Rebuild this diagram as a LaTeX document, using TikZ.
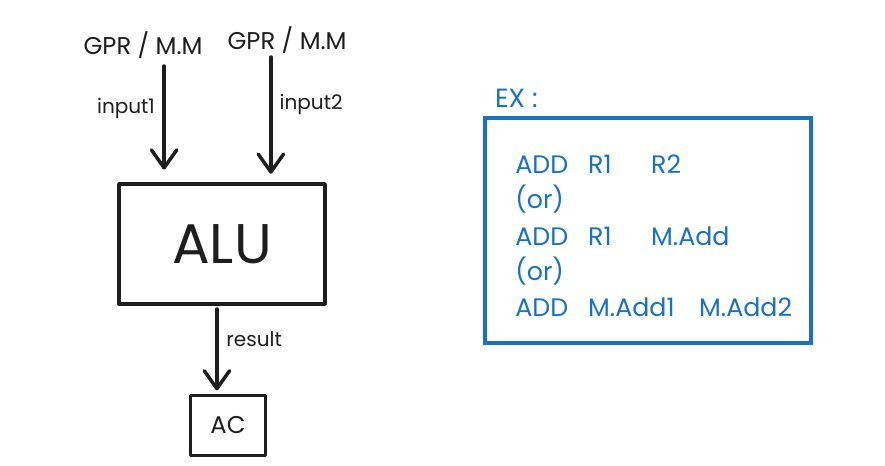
\documentclass[tikz,border=0pt]{standalone}
\usepackage{fontspec}
\setmainfont{Poppins}
\usetikzlibrary{arrows.meta}
\definecolor{inkblack}{HTML}{1E1E1E}
\definecolor{exblue}{HTML}{1971C2}
\begin{document}
\begin{tikzpicture}[
  every node/.style={text=inkblack, font=\fontsize{19}{22}\selectfont},
  unit/.style={draw=inkblack, line width=3.2pt, line join=round},
  flow/.style={draw=inkblack, line width=3.3pt, line cap=round,
    -{Straight Barb[round, length=17pt, width=24pt]}},
  src/.style={font=\fontsize{23}{26}\selectfont},
  exline/.style={anchor=west, text=exblue, font=\fontsize{24}{28}\selectfont, inner sep=0pt}]
\useasboundingbox (0,0) rectangle (29.5,-15.5);
\node[src] (gpr1) at (4.77,-1.5) {GPR / M.M};
\node[src] (gpr2) at (9.57,-1.33) {GPR / M.M};
\node[unit, minimum width=6.87cm, minimum height=4cm, font=\fontsize{53}{56}\selectfont] (alu) at (7.4,-8.13) {ALU};
\node[unit, line width=2.9pt, minimum width=2.53cm, minimum height=2cm, font=\fontsize{23}{26}\selectfont] (ac) at (7.6,-14.17) {AC};
\coordinate (in1) at (5.47,-2.2);
\coordinate (in2) at (9.03,-1.9);
\coordinate (res) at (7.23,-10.3);
\draw[flow, shorten >=12pt] (in1) -- (in1 |- alu.north);
\draw[flow, shorten >=8pt] (in2) -- (in2 |- alu.north);
\draw[flow, shorten >=3pt] (res) -- (res |- ac.north);
\node (lbl1) at (4.2,-3.63) {input1};
\node (lbl2) at (10.37,-3.47) {input2};
\node (lbl3) at (8.47,-11.3) {result};
% example box
\node[exline, font=\fontsize{25}{28}\selectfont] (ex) at (16.5,-3.27) {EX :};
\node[draw=exblue, line width=3.2pt, minimum width=10.87cm, minimum height=7.5cm] (exbox) at (21.6,-7.68) {};
\node[exline] (ln1) at (17.17,-5.47) {\makebox[2.43cm][l]{ADD}\makebox[2.1cm][l]{R1}R2};
\node[exline] (ln2) at (17.17,-6.63) {(or)};
\node[exline] (ln3) at (17.17,-7.87) {\makebox[2.43cm][l]{ADD}\makebox[2.1cm][l]{R1}M.Add};
\node[exline] (ln4) at (17.17,-9.03) {(or)};
\node[exline] (ln5) at (17.17,-10.23) {\makebox[2.43cm][l]{ADD}\makebox[3.7cm][l]{M.Add1}M.Add2};
\end{tikzpicture}
\end{document}
